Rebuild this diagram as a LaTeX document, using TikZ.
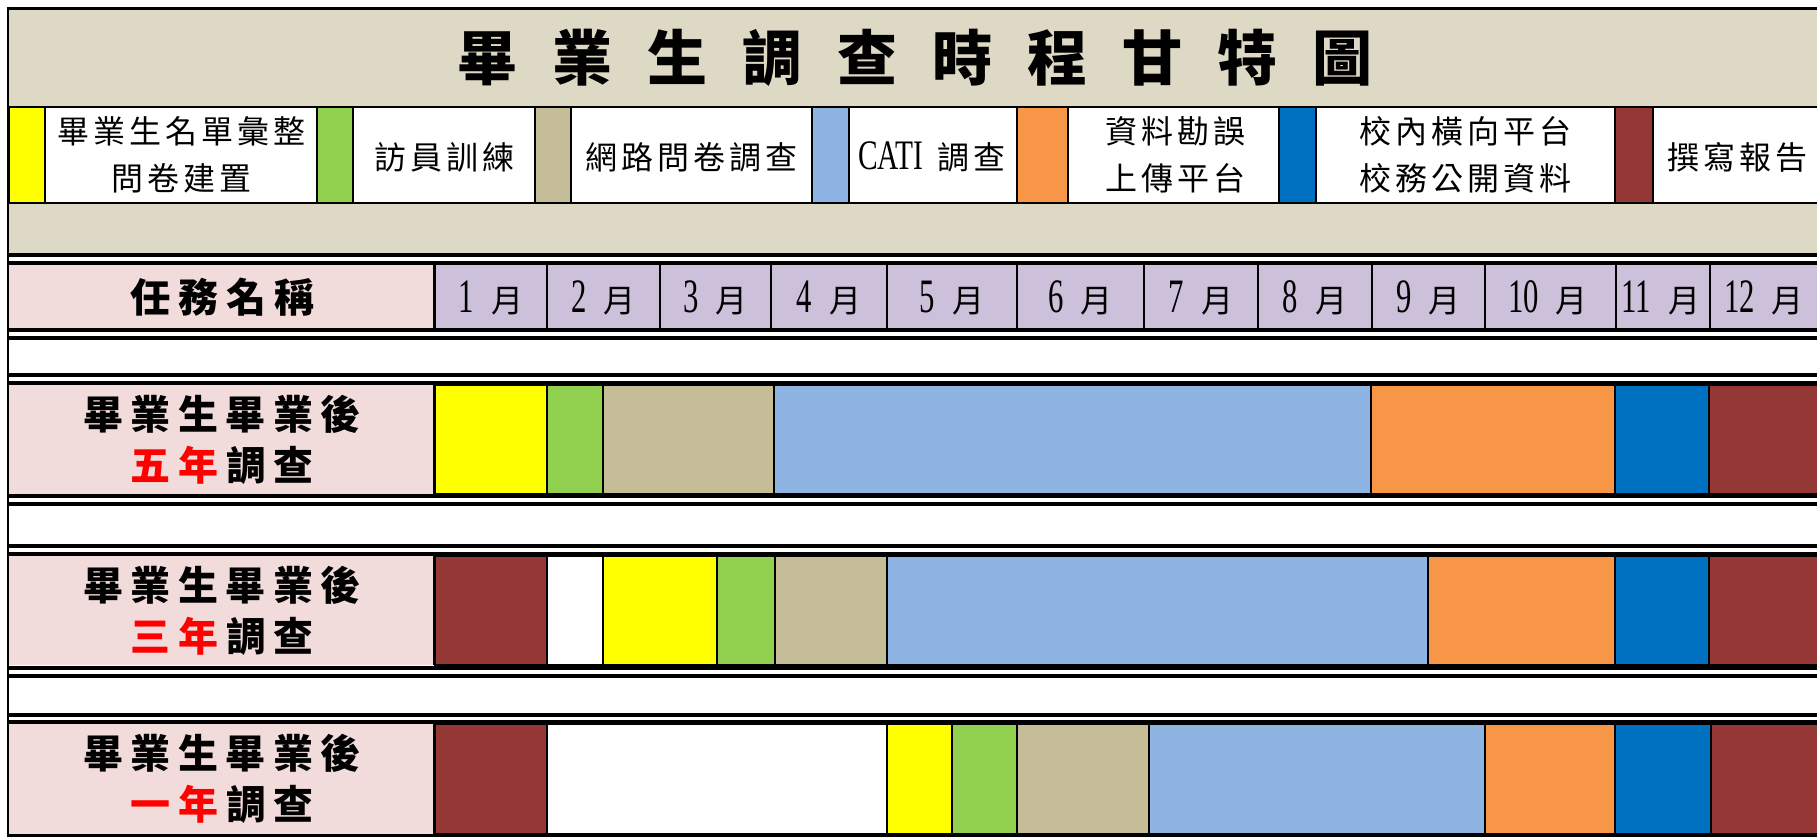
\documentclass[tikz,border=0pt]{standalone}
\usepackage{fontspec}
\setmainfont{Liberation Serif}
\newfontfamily\cjk{Noto Sans CJK TC}
\newfontfamily\lat[FakeStretch=0.7]{Liberation Serif}
\newfontfamily\latn[FakeStretch=0.64]{Liberation Serif}
\makeatletter
\newcommand\spaced[2]{\begingroup\def\sp@gap{}\@tfor\sp@c:=#2\do{\sp@gap\sp@c\def\sp@gap{\hspace{#1}}}\endgroup}
\makeatother
\definecolor{cBeige}{HTML}{DDD9C4}
\definecolor{cTan}{HTML}{C4BD97}
\definecolor{cYellow}{HTML}{FFFF00}
\definecolor{cGreen}{HTML}{92D050}
\definecolor{cLBlue}{HTML}{8DB4E2}
\definecolor{cOrange}{HTML}{F79646}
\definecolor{cBlue}{HTML}{0070C0}
\definecolor{cDRed}{HTML}{953735}
\definecolor{cPink}{HTML}{F2DCDB}
\definecolor{cLav}{HTML}{CCC0DA}
\definecolor{cRed}{HTML}{FF0000}
\newcommand\mon[1]{{\latn\fontsize{48}{48}\selectfont #1}\hspace{17pt}{\cjk\fontsize{32}{32}\selectfont 月}}
\tikzset{
  segbox/.style={draw=black, line width=1.5pt},
  dblline/.style={line width=4pt, black},
  titletext/.style={font=\cjk\bfseries\fontsize{60}{60}\selectfont, inner sep=0pt},
  legtext/.style={font=\cjk\fontsize{32}{47}\selectfont, align=center, inner sep=0pt},
  hdrtext/.style={font=\cjk\bfseries\fontsize{40}{40}\selectfont, inner sep=0pt},
  rowtext/.style={font=\cjk\bfseries\fontsize{40}{51}\selectfont, align=center, inner sep=0pt},
  montext/.style={inner sep=0pt}
}
\begin{document}
\begin{tikzpicture}[x=1pt,y=-1pt]
\useasboundingbox (0,0) rectangle (1817,840);
% title band
\fill[cBeige] (8,8) rectangle (1817,253);
% legend row
\fill[white] (8,107) rectangle (1817,203);
\foreach \a/\b/\c in {9/45/cYellow,317/353/cGreen,535/571/cTan,812/849/cLBlue,1017/1068/cOrange,1279/1316/cBlue,1615/1653/cDRed}{
  \fill[\c] (\a,107) rectangle (\b,203);
  \draw[line width=2pt] (\a,107) -- (\a,203) (\b,107) -- (\b,203);
}
\draw[line width=2pt] (8,107) -- (1817,107) (8,203) -- (1817,203);
% header row
\fill[cPink] (8,265) rectangle (435,328);
\fill[cLav] (435,265) rectangle (1817,328);
\foreach \x in {547,660,771,887,1017,1144,1258,1372,1485,1616,1710}
  \draw[line width=2pt] (\x,265) -- (\x,328);
% task rows: label cells
\foreach \ya/\yb in {385/494,556/665,724/834}
  \fill[cPink] (8,\ya) rectangle (435,\yb);
% row 1 (five years)
\foreach \a/\b/\c in {435/547/cYellow,547/603/cGreen,603/774/cTan,774/1371/cLBlue,1371/1615/cOrange,1615/1709/cBlue,1709/1830/cDRed}
  \filldraw[segbox, fill=\c] (\a,385) rectangle (\b,494);
% row 2 (three years)
\foreach \a/\b/\c in {435/547/cDRed,547/603/white,603/717/cYellow,717/775/cGreen,775/887/cTan,887/1428/cLBlue,1428/1615/cOrange,1615/1709/cBlue,1709/1830/cDRed}
  \filldraw[segbox, fill=\c] (\a,556) rectangle (\b,665);
% row 3 (one year)
\foreach \a/\b/\c in {435/547/cDRed,547/887/white,887/952/cYellow,952/1017/cGreen,1017/1149/cTan,1149/1485/cLBlue,1485/1615/cOrange,1615/1711/cBlue,1711/1830/cDRed}
  \filldraw[segbox, fill=\c] (\a,724) rectangle (\b,834);
% label / month divider
\draw[line width=3pt] (434.5,265) -- (434.5,328);
\foreach \ya/\yb in {385/494,556/665,724/834}
  \draw[line width=3pt] (434.5,\ya) -- (434.5,\yb);
% double rules
\foreach \y in {255,263,330,337.5,375,383,496,504,546,554,667.5,675.5,715,722}
  \draw[dblline] (8,\y) -- (1817,\y);
% outer borders
\draw[line width=3pt] (8,835.5) -- (1817,835.5);
\draw[line width=3pt] (8,8.5) -- (1817,8.5);
\draw[line width=2.5pt] (8,7) -- (8,837);
% title
\node[titletext] (title) at (915,58) {\spaced{35pt}{畢業生調查時程甘特圖}};
% legend texts
\node[legtext] (leg1) at (181,155) {\spaced{4pt}{畢業生名單彙整}\\\spaced{4pt}{問卷建置}};
\node[legtext] (leg2) at (444,157) {\spaced{4pt}{訪員訓練}};
\node[legtext] (leg3) at (691,157) {\spaced{4pt}{網路問卷調查}};
\node[legtext] (leg4) at (932,157) {{\lat\fontsize{42}{42}\selectfont CATI}\hspace{14pt}\spaced{4pt}{調查}};
\node[legtext] (leg5) at (1175,155) {\spaced{4pt}{資料勘誤}\\\spaced{4pt}{上傳平台}};
\node[legtext] (leg6) at (1465,155) {\spaced{4pt}{校內橫向平台}\\\spaced{4pt}{校務公開資料}};
\node[legtext] (leg7) at (1737,157) {\spaced{4pt}{撰寫報告}};
% header
\node[hdrtext] (task) at (222,297) {\spaced{8pt}{任務名稱}};
\foreach \n/\x in {1/491,2/603.5,3/715.5,4/829,5/952,6/1080.5,7/1201,8/1315,9/1428.5,10/1548,11/1661,12/1764}
  \node[montext] (mon\n) at (\x,298) {\mon{\n}};
% row labels
\node[rowtext] (lab5) at (222,440) {\spaced{7.5pt}{畢業生畢業後}\\\textcolor{cRed}{\spaced{8pt}{五年}}\hspace{8pt}\spaced{8pt}{調查}};
\node[rowtext] (lab3) at (222,611) {\spaced{7.5pt}{畢業生畢業後}\\\textcolor{cRed}{\spaced{8pt}{三年}}\hspace{8pt}\spaced{8pt}{調查}};
\node[rowtext] (lab1) at (222,779) {\spaced{7.5pt}{畢業生畢業後}\\\textcolor{cRed}{\spaced{8pt}{一年}}\hspace{8pt}\spaced{8pt}{調查}};
\end{tikzpicture}
\end{document}
